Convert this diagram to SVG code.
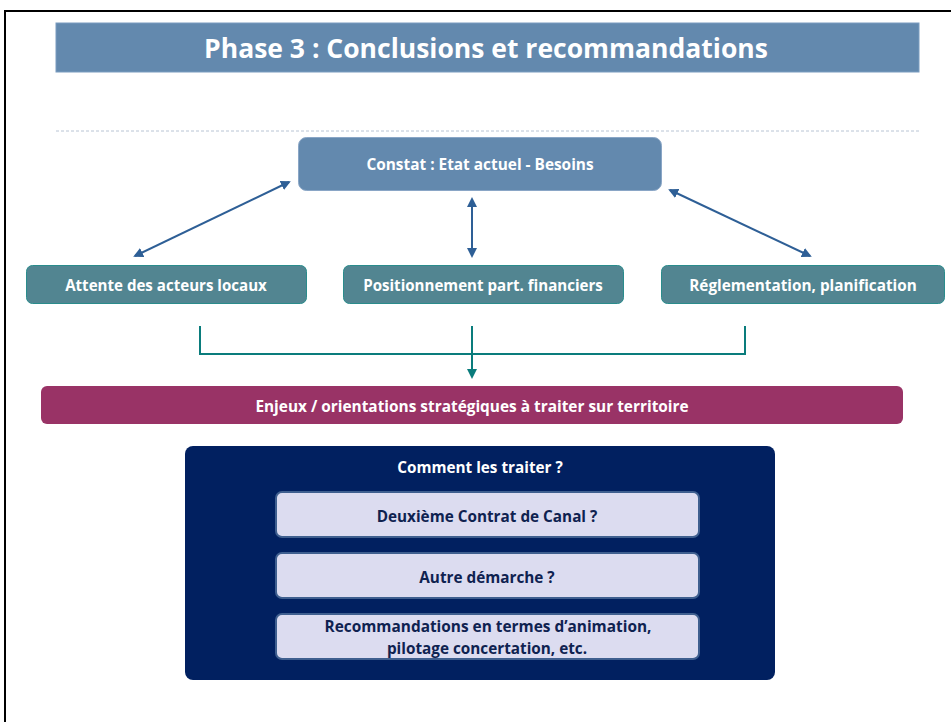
<svg xmlns="http://www.w3.org/2000/svg" width="951" height="722" viewBox="0 0 951 722">
<defs>
<style>
.t{font-family:"Open Sans","Liberation Sans",sans-serif;font-weight:bold;text-anchor:middle;dominant-baseline:central}
.w{fill:#ffffff}
.n{fill:#0f2250}
.teal{fill:#528591;stroke:#2a8c8c;stroke-width:1}
.inner{fill:#dcdcf0;stroke:#3f5f8f;stroke-width:2}
.ba{stroke:#2e5f96;stroke-width:2;fill:none;marker-start:url(#ab);marker-end:url(#ab)}
.tl{stroke:#0a7c7c;stroke-width:2;fill:none}
</style>
<marker id="ab" viewBox="0 0 10 10" refX="8" refY="5" markerWidth="5" markerHeight="5" orient="auto-start-reverse" markerUnits="strokeWidth">
<path d="M0,0 L10,5 L0,10 z" fill="#2e5f96"/>
</marker>
<marker id="at" viewBox="0 0 10 10" refX="8" refY="5" markerWidth="5" markerHeight="5" orient="auto" markerUnits="strokeWidth">
<path d="M0,0 L10,5 L0,10 z" fill="#0a7c7c"/>
</marker>
</defs>
<rect x="0" y="0" width="951" height="722" fill="#ffffff"/>
<path d="M5,722 V11 H951" fill="none" stroke="#000000" stroke-width="2"/>
<g id="title">
<rect x="56" y="23" width="863" height="49" fill="#6389ae" stroke="#7a9cc0" stroke-width="1"/>
<text class="t w" x="486" y="47.5" font-size="26.5">Phase 3 : Conclusions et recommandations</text>
</g>
<line x1="56" y1="131" x2="919" y2="131" stroke="#b8c4d4" stroke-width="1" stroke-dasharray="3,2"/>
<g id="constat">
<rect x="298.5" y="137.5" width="363" height="53" rx="8" fill="#6389ae" stroke="#8aa6c6" stroke-width="1"/>
<text class="t w" x="480" y="164" font-size="15.4">Constat : Etat actuel - Besoins</text>
</g>
<g id="attente">
<rect class="teal" x="26.5" y="265.5" width="280" height="38" rx="6"/>
<text class="t w" x="166" y="285" font-size="15.1">Attente des acteurs locaux</text>
</g>
<g id="positionnement">
<rect class="teal" x="343.5" y="265.5" width="280" height="38" rx="6"/>
<text class="t w" x="483" y="285" font-size="15.1">Positionnement part. financiers</text>
</g>
<g id="reglementation">
<rect class="teal" x="661.5" y="265.5" width="283" height="38" rx="6"/>
<text class="t w" x="803" y="285" font-size="15.3">Réglementation, planification</text>
</g>
<g id="enjeux">
<rect x="41" y="386" width="862" height="38" rx="6" fill="#993366"/>
<text class="t w" x="472" y="406" font-size="15.4">Enjeux / orientations stratégiques à traiter sur territoire</text>
</g>
<g id="comment">
<rect x="185" y="446" width="590" height="234" rx="8" fill="#012060"/>
<text class="t w" x="480" y="467" font-size="15.3">Comment les traiter ?</text>
</g>
<g id="deuxieme">
<rect class="inner" x="276" y="492" width="423" height="45" rx="6"/>
<text class="t n" x="487" y="516" font-size="15.3">Deuxième Contrat de Canal ?</text>
</g>
<g id="autre">
<rect class="inner" x="276" y="553" width="423" height="45" rx="6"/>
<text class="t n" x="487" y="577" font-size="15.3">Autre démarche ?</text>
</g>
<g id="recommandations">
<rect class="inner" x="276" y="614" width="423" height="45" rx="6"/>
<text class="t n" x="488" y="626" font-size="15.4">Recommandations en termes d’animation,</text>
<text class="t n" x="487" y="648" font-size="15.3">pilotage concertation, etc.</text>
</g>
<g id="connectors">
<line class="ba" x1="289" y1="182" x2="135" y2="256"/>
<line class="ba" x1="472" y1="199" x2="472" y2="256"/>
<line class="ba" x1="670" y1="190" x2="810" y2="256"/>
<path class="tl" d="M200,326 V354 H745 V326"/>
<line class="tl" x1="472" y1="326" x2="472" y2="377" marker-end="url(#at)"/>
</g>
</svg>
